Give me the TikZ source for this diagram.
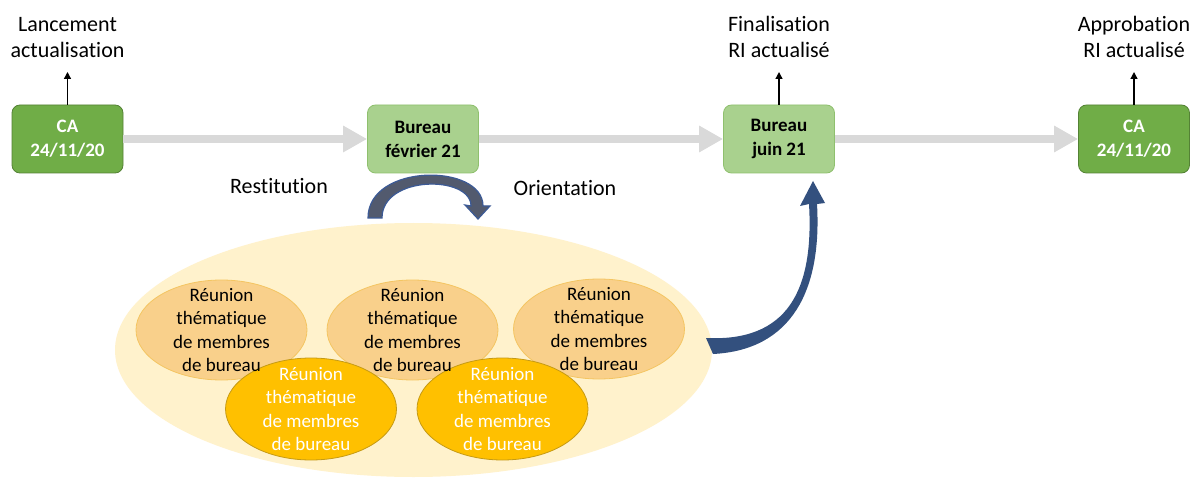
\documentclass[tikz,border=0pt]{standalone}
\usepackage{fontspec}
\setmainfont{Carlito}[Ligatures=NoCommon]
\usetikzlibrary{shapes.geometric,arrows.meta}
\definecolor{cagreen}{HTML}{70AD47}
\definecolor{cagreenD}{HTML}{548235}
\definecolor{bugreen}{HTML}{A9D18E}
\definecolor{bugreenD}{HTML}{8FC06E}
\definecolor{arrgray}{HTML}{D9D9D9}
\definecolor{bigfill}{HTML}{FFF2CC}
\definecolor{upfill}{HTML}{F9D08B}
\definecolor{updraw}{HTML}{F4C562}
\definecolor{lofill}{HTML}{FFC000}
\definecolor{lodraw}{HTML}{C59A14}
\definecolor{arcfill}{HTML}{525A6E}
\definecolor{arcedge}{HTML}{3C5A96}
\definecolor{navy}{HTML}{33507E}
\begin{document}
\begin{tikzpicture}[x=1pt,y=-1pt,
  box/.style={rectangle, rounded corners=8pt, minimum width=111pt, minimum height=68pt,
    align=center, font=\fontsize{19}{24}\selectfont\bfseries, line width=0.8pt, inner sep=0pt},
  cabox/.style={box, fill=cagreen, draw=cagreenD, text=white},
  burbox/.style={box, fill=bugreen, draw=bugreenD, text=black},
  toplabel/.style={align=center, font=\fontsize{22}{26}\selectfont, inner sep=0pt, outer ysep=14pt, anchor=south},
  sidelabel/.style={font=\fontsize{22}{26}\selectfont, inner sep=0pt},
  uparr/.style={line width=1.3pt, -{Triangle[length=7pt 0 0,width=7pt 0 0]}},
  grayarr/.style={draw=arrgray, line width=8pt, -{Triangle[length=24pt 0 0,width=25pt 0 0]}},
  bigell/.style={ellipse, minimum width=597pt, minimum height=254pt, fill=bigfill, inner sep=0pt},
  upell/.style={ellipse, minimum width=171pt, minimum height=100pt, fill=upfill, draw=updraw, line width=0.8pt, inner sep=0pt},
  loell/.style={ellipse, minimum width=171pt, minimum height=102pt, fill=lofill, draw=lodraw, line width=0.8pt, inner sep=0pt},
  etext/.style={align=center, font=\fontsize{19}{23.5}\selectfont, inner sep=0pt}
]
\useasboundingbox (0,0) rectangle (1190,478);
\fill[white] (0,0) rectangle (1190,478);

% boxes
\node[cabox]  (ca1) at (67.5,139) {CA\\24/11/20};
\node[burbox] (bf)  at (423,139)  {Bureau\\février 21};
\node[burbox] (bj)  at (779,139)  {Bureau\\juin 21};
\node[cabox]  (ca2) at (1134,139) {CA\\24/11/20};

% gray arrows
\draw[grayarr] (ca1.east) -- (bf.west);
\draw[grayarr] (bf.east) -- (bj.west);
\draw[grayarr] (bj.east) -- (ca2.west);

% top labels
\node[toplabel] (l1) at (67.5,72) {Lancement\\actualisation};
\node[toplabel] (l3) at (779,72)  {Finalisation\\RI actualisé};
\node[toplabel] (l4) at (1134,72) {Approbation\\RI actualisé};
\draw[uparr] (ca1.north) -- (l1.south);
\draw[uparr] (bj.north) -- (l3.south);
\draw[uparr] (ca2.north) -- (l4.south);

% side labels
\node[sidelabel] (rest) at (279,186) {Restitution};
\node[sidelabel] (orie) at (565,188) {Orientation};

% group ellipse
\node[bigell] (grp) at (413.5,350) {};
\node[upell] (e1) at (221.5,330) {};
\node[upell] (e2) at (412.5,330) {};
\node[upell] (e3) at (599,329) {};
\node[loell] (e4) at (311,409) {};
\node[loell] (e5) at (502.5,409) {};
\node[etext] at (e1) {Réunion\\thématique\\de membres\\de bureau};
\node[etext] at (e2) {Réunion\\thématique\\de membres\\de bureau};
\node[etext] at (e3) {Réunion\\thématique\\de membres\\de bureau};
\node[etext, text=white] at (e4) {Réunion\\thématique\\de membres\\de bureau};
\node[etext, text=white] at (e5) {Réunion\\thématique\\de membres\\de bureau};

% curved arrow 1 (restitution / orientation)
\filldraw[fill=arcfill, draw=arcedge, line width=1.2pt, line join=miter]
  (368,218) .. controls (368,163) and (483,163) .. (483,206)
  -- (490,206) -- (478,219) -- (465,205) -- (471,206)
  .. controls (471,175) and (382,175) .. (382,218) -- cycle;

% curved arrow 2 (to Bureau juin)
\fill[navy]
  (706,338) .. controls (788,342) and (814,290) .. (809,204)
  -- (800,206) -- (813,181) -- (825,203) -- (817,204)
  .. controls (822,290) and (792,350) .. (713,354) -- cycle;
\end{tikzpicture}
\end{document}
